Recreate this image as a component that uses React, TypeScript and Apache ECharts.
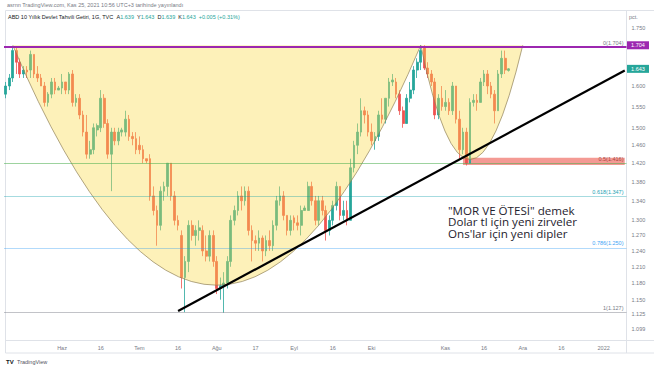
import React, { useEffect, useRef } from 'react';
import * as echarts from 'echarts';

// ---- calendar (daily bars, weekdays) ----
const firstDay = '2021-05-10';
const lastAxisDay = '2022-01-11';

// ---- OHLC: [open, close, low, high] ----
const mayBars = [
  [1.58, 1.60, 1.57, 1.61], [1.60, 1.62, 1.59, 1.63], [1.62, 1.69, 1.61, 1.70], [1.69, 1.66, 1.63, 1.70],
  [1.66, 1.63, 1.62, 1.67], [1.63, 1.64, 1.62, 1.65], [1.64, 1.635, 1.62, 1.65], [1.64, 1.68, 1.62, 1.69],
  [1.68, 1.63, 1.62, 1.68], [1.63, 1.62, 1.61, 1.65], [1.62, 1.60, 1.60, 1.63], [1.60, 1.56, 1.55, 1.61],
  [1.56, 1.58, 1.55, 1.585], [1.58, 1.61, 1.57, 1.62], [1.61, 1.59, 1.58, 1.62], [1.59, 1.595, 1.59, 1.60],
];
const junBars = [
  [1.595, 1.61, 1.58, 1.63], [1.61, 1.59, 1.58, 1.61], [1.59, 1.63, 1.58, 1.635], [1.63, 1.56, 1.55, 1.64],
  [1.56, 1.57, 1.55, 1.58], [1.57, 1.53, 1.52, 1.58], [1.53, 1.49, 1.48, 1.54], [1.49, 1.44, 1.43, 1.53],
  [1.44, 1.45, 1.43, 1.47], [1.45, 1.50, 1.44, 1.51], [1.495, 1.505, 1.48, 1.51], [1.50, 1.57, 1.49, 1.59],
  [1.57, 1.51, 1.50, 1.58], [1.51, 1.44, 1.43, 1.52], [1.44, 1.49, 1.36, 1.50], [1.49, 1.47, 1.46, 1.50],
  [1.47, 1.49, 1.46, 1.50], [1.49, 1.495, 1.48, 1.50], [1.49, 1.52, 1.48, 1.54], [1.52, 1.48, 1.47, 1.53],
  [1.48, 1.475, 1.46, 1.49], [1.475, 1.45, 1.44, 1.49],
];
const julBars = [
  [1.46, 1.45, 1.44, 1.48], [1.45, 1.43, 1.42, 1.46], [1.43, 1.425, 1.42, 1.43], [1.43, 1.35, 1.34, 1.44],
  [1.35, 1.32, 1.31, 1.37], [1.32, 1.29, 1.25, 1.33], [1.29, 1.36, 1.28, 1.37], [1.36, 1.37, 1.34, 1.38],
  [1.37, 1.42, 1.35, 1.42], [1.42, 1.35, 1.34, 1.42], [1.35, 1.30, 1.29, 1.36], [1.30, 1.29, 1.28, 1.31],
  [1.27, 1.19, 1.17, 1.28], [1.19, 1.22, 1.128, 1.23], [1.22, 1.29, 1.20, 1.30], [1.29, 1.27, 1.26, 1.30],
  [1.27, 1.28, 1.25, 1.29], [1.28, 1.285, 1.26, 1.30], [1.28, 1.24, 1.23, 1.29], [1.24, 1.23, 1.22, 1.27],
  [1.23, 1.27, 1.22, 1.28], [1.27, 1.22, 1.21, 1.28],
];
const augBars = [
  [1.22, 1.17, 1.16, 1.23], [1.17, 1.175, 1.15, 1.19], [1.175, 1.18, 1.127, 1.20], [1.18, 1.22, 1.17, 1.23],
  [1.22, 1.30, 1.21, 1.31], [1.30, 1.32, 1.29, 1.33], [1.32, 1.35, 1.31, 1.36], [1.35, 1.34, 1.32, 1.37],
  [1.34, 1.36, 1.33, 1.37], [1.36, 1.28, 1.27, 1.37], [1.28, 1.26, 1.22, 1.29], [1.26, 1.255, 1.24, 1.27],
  [1.255, 1.265, 1.24, 1.28], [1.265, 1.24, 1.22, 1.27], [1.24, 1.26, 1.23, 1.27], [1.26, 1.25, 1.24, 1.28],
  [1.25, 1.29, 1.24, 1.30], [1.29, 1.34, 1.28, 1.35], [1.34, 1.35, 1.33, 1.37], [1.35, 1.31, 1.30, 1.36],
  [1.31, 1.28, 1.27, 1.31], [1.28, 1.30, 1.27, 1.31],
];
const sepBars = [
  [1.305, 1.295, 1.28, 1.31], [1.295, 1.29, 1.28, 1.31], [1.29, 1.32, 1.27, 1.33], [1.32, 1.325, 1.32, 1.33],
  [1.32, 1.37, 1.32, 1.38], [1.37, 1.34, 1.33, 1.38], [1.34, 1.30, 1.29, 1.35], [1.30, 1.34, 1.29, 1.35],
  [1.34, 1.32, 1.31, 1.35], [1.32, 1.28, 1.26, 1.33], [1.28, 1.30, 1.27, 1.31], [1.30, 1.33, 1.29, 1.34],
  [1.33, 1.37, 1.32, 1.38], [1.37, 1.31, 1.30, 1.37], [1.31, 1.32, 1.30, 1.34], [1.32, 1.30, 1.29, 1.34],
  [1.30, 1.41, 1.30, 1.43], [1.41, 1.46, 1.40, 1.47], [1.46, 1.49, 1.44, 1.51], [1.49, 1.54, 1.48, 1.57],
  [1.54, 1.53, 1.51, 1.55], [1.53, 1.49, 1.48, 1.54],
];
const octBars = [
  [1.49, 1.47, 1.46, 1.51], [1.47, 1.48, 1.45, 1.49], [1.48, 1.53, 1.47, 1.54], [1.53, 1.52, 1.51, 1.57],
  [1.52, 1.57, 1.51, 1.57], [1.57, 1.61, 1.55, 1.62], [1.61, 1.615, 1.60, 1.63], [1.61, 1.58, 1.57, 1.62],
  [1.58, 1.54, 1.53, 1.59], [1.54, 1.51, 1.50, 1.55], [1.51, 1.57, 1.51, 1.58], [1.57, 1.59, 1.56, 1.61],
  [1.59, 1.64, 1.58, 1.65], [1.64, 1.66, 1.62, 1.67], [1.66, 1.69, 1.64, 1.704], [1.70, 1.645, 1.64, 1.704],
  [1.645, 1.63, 1.62, 1.66], [1.63, 1.61, 1.60, 1.64], [1.61, 1.53, 1.52, 1.62], [1.53, 1.57, 1.52, 1.58],
  [1.57, 1.55, 1.54, 1.60],
];
const novBars = [
  [1.55, 1.56, 1.54, 1.59], [1.56, 1.54, 1.53, 1.57], [1.54, 1.60, 1.53, 1.61], [1.60, 1.52, 1.51, 1.60],
  [1.52, 1.45, 1.43, 1.54], [1.45, 1.49, 1.44, 1.50], [1.49, 1.42, 1.415, 1.50], [1.42, 1.56, 1.42, 1.57],
  [1.56, 1.565, 1.55, 1.58], [1.565, 1.56, 1.54, 1.58], [1.56, 1.61, 1.56, 1.62], [1.61, 1.63, 1.60, 1.64],
  [1.63, 1.60, 1.58, 1.64], [1.60, 1.58, 1.57, 1.61], [1.58, 1.54, 1.51, 1.59], [1.54, 1.63, 1.54, 1.64],
  [1.63, 1.67, 1.62, 1.69], [1.67, 1.64, 1.63, 1.69], [1.639, 1.643, 1.636, 1.645],
];

// ---- axis labels ----
const xTickLabels: [string, string][] = [
  ['2021-06-01', 'Haz'], ['2021-06-16', '16'], ['2021-07-01', 'Tem'], ['2021-07-16', '16'],
  ['2021-08-02', 'Ağu'], ['2021-08-17', '17'], ['2021-09-01', 'Eyl'], ['2021-09-16', '16'],
  ['2021-10-01', 'Eki'], ['2021-11-01', 'Kas'], ['2021-11-16', '16'], ['2021-12-01', 'Ara'],
  ['2021-12-16', '16'], ['2022-01-03', '2022'],
];
const yTickPrices = [1.75, 1.6, 1.55, 1.5, 1.46, 1.42, 1.38, 1.34, 1.3, 1.27, 1.24, 1.21, 1.18, 1.15, 1.125, 1.099];
const yAxisMinPrice = 1.0805;
const yAxisMaxPrice = 1.7967;

// ---- drawings ----
const fibLevels = [
  { ratio: '0', price: 1.704, line: '#9c27b0', width: 2, text: '#787b86' },
  { ratio: '0.5', price: 1.416, line: 'rgba(76,175,80,0.55)', width: 1, text: '#a8473f' },
  { ratio: '0.618', price: 1.347, line: 'rgba(0,151,167,0.35)', width: 1, text: '#1e9fb5' },
  { ratio: '0.786', price: 1.25, line: 'rgba(33,150,243,0.35)', width: 1, text: '#42a5f5' },
  { ratio: '1', price: 1.127, line: 'rgba(120,123,134,0.45)', width: 1, text: '#787b86' },
];
// arcs: [date index, price] for start, lowest point, end
const arcs = [
  { start: [2, 1.704], vertex: [60, 1.176], end: [118, 1.704] },
  { start: [118, 1.704], vertex: [132, 1.428], end: [147, 1.704] },
];
const zoneBox = { from: [130, 1.432], to: [176, 1.416] };
const trendLine = [[49, 1.13], [176, 1.639]];
const priceTags = [
  { price: 1.704, text: '1.704', color: '#9c27b0' },
  { price: 1.643, text: '1.643', color: '#26a69a' },
];
const noteLines = ['"MOR VE ÖTESİ" demek', 'Dolar tl için yeni zirveler', "Ons'lar için yeni dipler"];

function weekdays(from: string, to: string): string[] {
  const out: string[] = [];
  const d = new Date(from + 'T00:00:00Z');
  const end = new Date(to + 'T00:00:00Z');
  while (d <= end) {
    const wd = d.getUTCDay();
    if (wd !== 0 && wd !== 6) out.push(d.toISOString().slice(0, 10));
    d.setUTCDate(d.getUTCDate() + 1);
  }
  return out;
}

const ln = Math.log;
const FONT = 'Liberation Sans, Arial, sans-serif';

export default function App() {
  const ref = useRef<HTMLDivElement>(null);
  useEffect(() => {
    if (!ref.current) return;
    const chart = echarts.init(ref.current, null, { renderer: 'svg' });
    const categories = weekdays(firstDay, lastAxisDay);
    const bars = [...mayBars, ...junBars, ...julBars, ...augBars, ...sepBars, ...octBars, ...novBars];
    const candleData = bars.map(([o, c, l, h]) => [ln(o), ln(c), ln(l), ln(h)]);
    const labelMap: Record<string, string> = {};
    xTickLabels.forEach(([d, t]) => (labelMap[d] = t));

    const option: any = {
      animation: false,
      grid: { left: 4, right: 27.5, top: 11, bottom: 26 },
      xAxis: {
        type: 'category',
        data: categories,
        boundaryGap: true,
        axisLine: { show: false },
        axisTick: { show: false },
        splitLine: { show: false },
        axisLabel: {
          interval: (_i: number, v: string) => labelMap[v] !== undefined,
          formatter: (v: string) => labelMap[v] || '',
          fontSize: 5.5,
          color: '#787b86',
          fontFamily: FONT,
          margin: 4.5,
        },
      },
      yAxis: {
        type: 'value',
        position: 'right',
        min: ln(yAxisMinPrice),
        max: ln(yAxisMaxPrice),
        axisLine: { show: false },
        axisTick: { show: false },
        splitLine: { show: false },
        axisLabel: {
          customValues: yTickPrices.map((p) => ln(p)),
          formatter: (v: number) => Math.exp(v).toFixed(3),
          fontSize: 5.5,
          color: '#787b86',
          fontFamily: FONT,
          margin: 5,
          align: 'left',
        },
      },
      series: [
        {
          type: 'candlestick',
          data: candleData,
          barWidth: 2.2,
          z: 2,
          itemStyle: {
            color: '#26a69a',
            color0: '#ef5350',
            borderColor: '#26a69a',
            borderColor0: '#ef5350',
            borderWidth: 0.8,
          },
          markArea: {
            silent: true,
            itemStyle: { color: 'rgba(236,86,76,0.6)' },
            data: [[
              { coord: [zoneBox.from[0], ln(zoneBox.from[1])] },
              { coord: [zoneBox.to[0], ln(zoneBox.to[1])] },
            ]],
          },
        },
        {
          type: 'custom',
          name: 'arcs',
          z: 3,
          silent: true,
          data: arcs.map((a) => [a.vertex[0], ln(a.vertex[1])]),
          renderItem: (params: any, api: any) => {
            const a = arcs[params.dataIndex];
            const p0 = api.coord([a.start[0], ln(a.start[1])]);
            const pv = api.coord([a.vertex[0], ln(a.vertex[1])]);
            const p1 = api.coord([a.end[0], ln(a.end[1])]);
            const cx = 2 * pv[0] - (p0[0] + p1[0]) / 2;
            const cy = 2 * pv[1] - (p0[1] + p1[1]) / 2;
            const d = `M${p0[0]} ${p0[1]} Q${cx} ${cy} ${p1[0]} ${p1[1]}`;
            return {
              type: 'group',
              children: [
                { type: 'path', shape: { pathData: d + ' Z' }, style: { fill: 'rgba(251,220,80,0.4)', stroke: 'none' } },
                { type: 'path', shape: { pathData: d }, style: { fill: 'none', stroke: 'rgba(140,125,85,0.85)', lineWidth: 0.8 } },
              ],
            };
          },
        },
        {
          type: 'line',
          name: 'trend',
          z: 6,
          silent: true,
          symbol: 'none',
          data: trendLine.map(([i, p]) => [i, ln(p)]),
          lineStyle: { color: '#000', width: 2.2 },
          markLine: {
            silent: true,
            symbol: 'none',
            data: fibLevels.map((f) => ({
              yAxis: ln(f.price),
              lineStyle: { color: f.line, width: f.width, type: 'solid' },
              label: {
                show: true,
                position: 'insideEndTop',
                formatter: `${f.ratio}(${f.price.toFixed(3)})`,
                color: f.text,
                fontSize: 5.5,
                fontFamily: FONT,
                distance: [3, 1.5],
              },
            })),
          },
        },
        {
          type: 'custom',
          name: 'tags',
          z: 8,
          silent: true,
          data: priceTags.map((t) => [0, ln(t.price)]),
          renderItem: (params: any, api: any) => {
            const t = priceTags[params.dataIndex];
            const y = api.coord([0, ln(t.price)])[1];
            const cs = params.coordSys;
            const x0 = cs.x + cs.width + 0.5;
            return {
              type: 'group',
              children: [
                { type: 'rect', shape: { x: x0, y: y - 4, width: 22, height: 8 }, style: { fill: t.color } },
                {
                  type: 'text',
                  style: { text: t.text, x: x0 + 11, y, align: 'center', verticalAlign: 'middle', fill: '#fff', fontSize: 5.5, fontFamily: FONT },
                },
              ],
            };
          },
        },
      ],
      graphic: [
        { type: 'rect', silent: true, z: 0, shape: { x: 5.5, y: 10.5, width: 660, height: 342.5 }, style: { fill: 'none', stroke: '#dfe2e8', lineWidth: 1 } },
        { type: 'line', silent: true, z: 0, shape: { x1: 626.5, y1: 10.5, x2: 626.5, y2: 353 }, style: { stroke: '#dfe2e8', lineWidth: 1 } },
        { type: 'line', silent: true, z: 0, shape: { x1: 5.5, y1: 340.5, x2: 654, y2: 340.5 }, style: { stroke: '#dfe2e8', lineWidth: 1 } },
        {
          type: 'text', silent: true, x: 7, y: 2,
          style: { text: 'asrnn TradingView.com, Kas 25, 2021 10:56 UTC+3 tarihinde yayınlandı', fontSize: 5.5, fontFamily: FONT, fill: '#787b86' },
        },
        {
          type: 'text', silent: true, x: 8, y: 14, z: 20,
          style: {
            text: '{t|ABD 10 Yıllık Devlet Tahvili Getiri, 1G, TVC}  {k|A}{v|1.639}  {k|Y}{v|1.643}  {k|D}{v|1.639}  {k|K}{v|1.643}  {v|+0.005 (+0.31%)}',
            fontSize: 5.5,
            fontFamily: FONT,
            rich: {
              t: { fill: '#131722', fontSize: 5.5, fontFamily: FONT },
              k: { fill: '#131722', fontSize: 5.5, fontFamily: FONT },
              v: { fill: '#26a69a', fontSize: 5.5, fontFamily: FONT },
            },
          },
        },
        { type: 'text', silent: true, x: 629, y: 14, style: { text: 'pct.', fontSize: 5.5, fontFamily: FONT, fill: '#787b86' } },
        ...noteLines.map((t, i) => ({
          type: 'text', silent: true, x: 448, y: 210 + i * 11.6, z: 20,
          style: {
            text: t,
            fontSize: 11.6,
            fontFamily: 'Open Sans, sans-serif',
            fill: '#1e222d',
            verticalAlign: 'middle',
          },
        })),
        {
          type: 'text', silent: true, x: 6, y: 356,
          style: {
            text: '{b|TV} {n|TradingView}',
            rich: {
              b: { fontSize: 6, fontWeight: 'bold', fill: '#131722', fontFamily: FONT },
              n: { fontSize: 5.5, fill: '#50535e', fontFamily: FONT },
            },
          },
        },
      ],
    };
    chart.setOption(option);
    return () => chart.dispose();
  }, []);
  return <div ref={ref} style={{ position: 'fixed', left: 0, top: 0, width: 654, height: 366, background: '#fff' }} />;
}
